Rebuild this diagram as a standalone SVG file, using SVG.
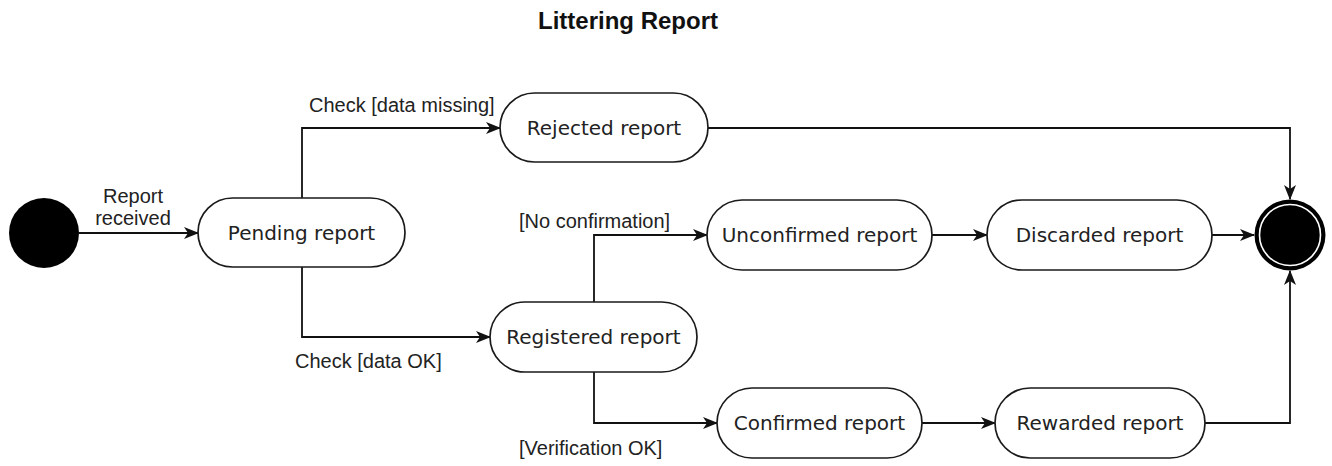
<svg xmlns="http://www.w3.org/2000/svg" width="1332" height="466" viewBox="0 0 1332 466">
<defs>
<style>
.node rect{fill:#fff;stroke:#1a1a1a;stroke-width:1.7}
.node text{font-family:"DejaVu Sans",Verdana,sans-serif;font-size:20px;fill:#222;text-anchor:middle}
.edge{fill:none;stroke:#111;stroke-width:1.8;marker-end:url(#arr)}
.lbl{font-family:"Liberation Sans",Arial,sans-serif;font-size:20px;fill:#222}
.title{font-family:"Liberation Sans",Arial,sans-serif;font-size:24px;font-weight:bold;fill:#111;text-anchor:middle}
</style>
<marker id="arr" viewBox="0 0 15 12" refX="14" refY="6" markerWidth="15" markerHeight="12" markerUnits="userSpaceOnUse" orient="auto">
<path d="M0,0 L15,6 L0,12 L4,6 z" fill="#111"/>
</marker>
</defs>
<rect width="1332" height="466" fill="#fff"/>
<text class="title" x="628" y="29">Littering Report</text>

<g id="connectors">
<path class="edge" d="M79,233 L198,233"/>
<path class="edge" d="M302,198 L302,128 L500,128"/>
<path class="edge" d="M302,267 L302,337 L490,337"/>
<path class="edge" d="M708,128 L1290,128 L1290,199"/>
<path class="edge" d="M594,302 L594,235 L707,235"/>
<path class="edge" d="M594,372 L594,423 L717,423"/>
<path class="edge" d="M932,235 L987,235"/>
<path class="edge" d="M1212,235 L1254,235"/>
<path class="edge" d="M922,423 L995,423"/>
<path class="edge" d="M1205,423 L1290,423 L1290,271"/>
<text class="lbl" x="133" y="203" text-anchor="middle">Report</text>
<text class="lbl" x="133" y="225" text-anchor="middle">received</text>
<text class="lbl" x="309" y="112">Check [data missing]</text>
<text class="lbl" x="295" y="368">Check [data OK]</text>
<text class="lbl" x="519" y="228">[No confirmation]</text>
<text class="lbl" x="519" y="455">[Verification OK]</text>
</g>

<g id="start">
<circle cx="44" cy="233" r="35" fill="#000"/>
</g>
<g id="pending" class="node">
<rect x="198" y="198" width="207" height="69" rx="34.5"/>
<text x="301.5" y="240">Pending report</text>
</g>
<g id="rejected" class="node">
<rect x="500" y="93" width="208" height="69" rx="34.5"/>
<text x="604" y="135">Rejected report</text>
</g>
<g id="registered" class="node">
<rect x="490" y="302" width="207" height="70" rx="35"/>
<text x="593.5" y="344">Registered report</text>
</g>
<g id="unconfirmed" class="node">
<rect x="707" y="200" width="225" height="70" rx="35"/>
<text x="819.5" y="242">Unconfirmed report</text>
</g>
<g id="discarded" class="node">
<rect x="987" y="200" width="225" height="70" rx="35"/>
<text x="1099.5" y="242">Discarded report</text>
</g>
<g id="confirmed" class="node">
<rect x="717" y="388" width="205" height="70" rx="35"/>
<text x="819.5" y="430">Confirmed report</text>
</g>
<g id="rewarded" class="node">
<rect x="995" y="388" width="210" height="70" rx="35"/>
<text x="1100" y="430">Rewarded report</text>
</g>
<g id="end">
<circle cx="1290" cy="235" r="35.5" fill="#000"/>
<circle cx="1290" cy="235" r="30.5" fill="#000" stroke="#fff" stroke-width="1.6"/>
</g>
</svg>
